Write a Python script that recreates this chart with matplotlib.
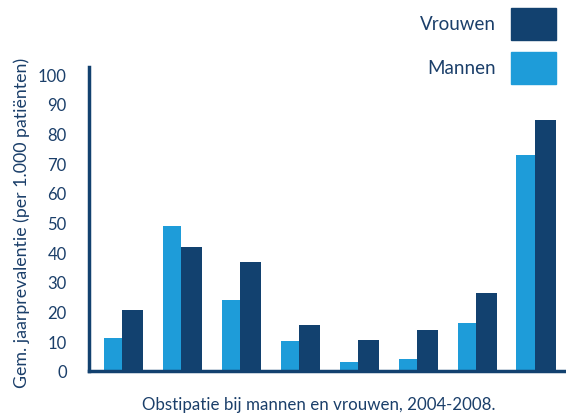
import matplotlib
matplotlib.use("Agg")
import matplotlib.pyplot as plt
from matplotlib.patches import Rectangle
import numpy as np

plt.rcParams['font.family'] = ['Lato', 'DejaVu Sans']

groups = ['1', '2', '3', '4', '5', '6', '7', '8']
mannen = [11.2, 49.0, 24.0, 10.2, 3.0, 4.0, 16.3, 72.9]
vrouwen = [20.7, 41.9, 36.8, 15.6, 10.6, 13.9, 26.4, 84.6]
yticks = [0, 10, 20, 30, 40, 50, 60, 70, 80, 90, 100]
series_names = ['Vrouwen', 'Mannen']
xlabel = 'Obstipatie bij mannen en vrouwen, 2004-2008.'
ylabel = 'Gem. jaarprevalentie (per 1.000 patiënten)'

DARK = '#12416f'
LIGHT = '#1e9cd9'
TEXT = '#1b3f6a'

W, H = 566, 414
fig = plt.figure(figsize=(W / 100, H / 100), dpi=100)
ax = fig.add_axes([89 / W, 1 - 372 / H, (W - 89) / W, (372 - 68) / H])

x = np.arange(len(groups))
ax.bar(x, mannen, width=-0.31, align='edge', color=LIGHT, zorder=2)
ax.bar(x, vrouwen, width=0.36, align='edge', color=DARK, zorder=2)

ax.set_xlim(-0.56, 7.53)
ax.set_ylim(0, 102.4)
ax.set_yticks(yticks)
ax.set_yticklabels([str(t) for t in yticks], fontsize=12, color=TEXT)
ax.set_xticks([])
ax.tick_params(axis='y', length=0, pad=16)
for s in ['top', 'right']:
    ax.spines[s].set_visible(False)
for s in ['left', 'bottom']:
    ax.spines[s].set_color(DARK)
    ax.spines[s].set_linewidth(2.5)
    ax.spines[s].set_zorder(3)

fig.text(22 / W, 1 - 223 / H, ylabel, rotation=90, ha='center', va='center',
         fontsize=12.8, color=TEXT)
fig.text(319 / W, 1 - 405 / H, xlabel, ha='center', va='center',
         fontsize=12.2, color=TEXT)

# legend
leg_items = [(series_names[0], DARK, 9, 41), (series_names[1], LIGHT, 53, 85)]
for name, col, y0, y1 in leg_items:
    fig.patches.append(Rectangle((511 / W, 1 - y1 / H), 45 / W, (y1 - y0) / H,
                                 transform=fig.transFigure, color=col))
    fig.text(496 / W, 1 - ((y0 + y1) / 2) / H, name, ha='right', va='center',
             fontsize=13.5, color=TEXT)

fig.savefig('out.png', dpi=100)
